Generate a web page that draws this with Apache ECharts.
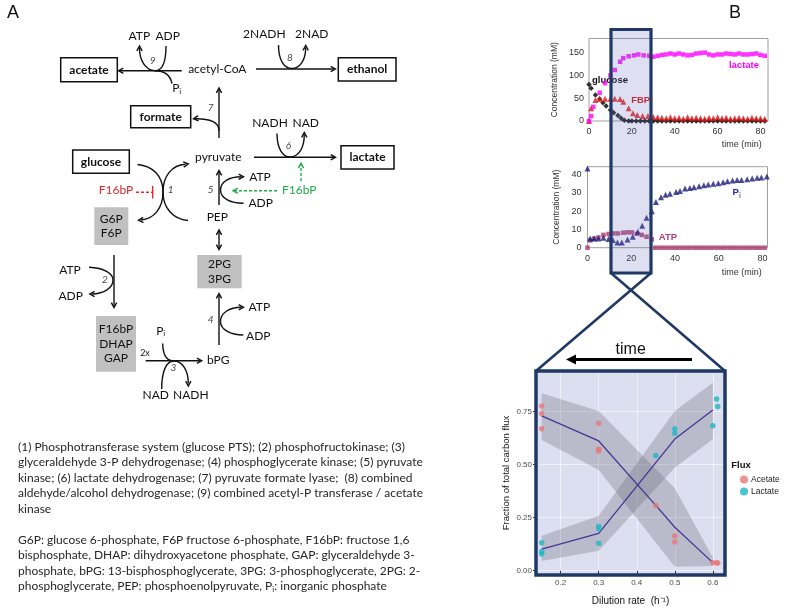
<!DOCTYPE html>
<html><head><meta charset="utf-8">
<script src="https://cdn.jsdelivr.net/npm/echarts@6/dist/echarts.min.js"></script>
<style>html,body{margin:0;padding:0;background:#fff}#c{width:787px;height:612px}</style>
</head><body><div id="c"></div>
<script>
// ---------- DATA: top chart (concentration, mM vs time, min) ----------
const glucoseT = [0,1,3,5,6.5,8,10,11.5,13.5,15,16.5,18.5,20,22,24,26,28,30,32,34,36,38,40,42,44,46,48,50,52,54,56,58,60,62,64,66,68,70,72,74,76,78,80,82];
const glucoseV = [80,72,57,48,40,33,24,18,12,6,1.5,0,0,0,0,0,0,0,0,0,0,0,0,0,0,0,0,0,0,0,0,0,0,0,0,0,0,0,0,0,0,0,0,0];
const fbpT = [0,1,3,5,7.5,10,12,14.5,16,18.5,20.5,22.5,25,27.5,30,32,34,36,38,40,42,44,46,48,50,52,54,56,58,60,62,64,66,68,70,72,74,76,78,80,82];
const fbpV = [0,28,46,49,49,49,49,48,42,28,17,13,11,11,9,8,7,6,8,6,7,5,8,6,7,6,5,7,6,8,6,7,5,6,7,6,5,7,6,6,5];
const lactT = [0,1,2,5,7.5,10,12,14.5,16,18.5,21,23,25.5,28,30,32,34,36,38,40,42,44,46,48,50,52,54,56,58,60,62,64,66,68,70,72,74,76,78,80,82];
const lactV = [0,11,31,62,83,100,112,130,138,142,144,146,144,143,141,143,145,146,148,146,148,146,144,145,148,149,150,146,144,146,146,148,147,146,148,146,146,147,148,145,143];
// ---------- DATA: middle chart ----------
const piT = [0,1.2,3,5,7.3,9.6,11.6,13.7,15.7,18.3,20.7,23,25,27,29.4,31.3,33.6,35.7,37.7,40.5,42.3,44.6,46.8,48.7,51,53.2,55.2,57.5,59.8,62,64,66.3,68.4,70.4,73,75.3,77.6,79.5,82];
const piV = [43.3,5,5,5,5.5,4.7,4.2,2.9,2.9,4.5,6,8.7,12,16.4,20,25,27.6,29,29.5,30.5,31,32.4,32.7,33,33.6,34.2,34.5,35,35.3,35.8,36.4,36.7,37,37,37.5,37.8,38.2,38.4,39];
const atpT = [0,1.2,3,5,7.3,9.6,11.9,14,16.4,18.3,20.2,22.5,24.8,27,29.4,31,33,35,37,39,41,43,45,47,49,51,53,55,57,59,61,63,65,67,69,71,73,75,77,79,81,83];
const atpV = [0,4,5,5.6,7,7.5,7.8,7.8,8.2,8.4,8.4,7.6,7,6,4.5,0,0,0,0,0,0,0,0,0,0,0,0,0,0,0,0,0,0,0,0,0,0,0,0,0,0,0];
// ---------- DATA: bottom chart (fraction of carbon flux vs dilution rate) ----------
const acetX = [0.15,0.15,0.15,0.3,0.3,0.3,0.45,0.5,0.5,0.6,0.61,0.613];
const acetY = [0.777,0.742,0.670,0.695,0.573,0.565,0.308,0.164,0.135,0.038,0.038,0.036];
const lactX = [0.15,0.15,0.15,0.3,0.3,0.3,0.45,0.5,0.5,0.6,0.61,0.613];
const lactY = [0.132,0.090,0.079,0.208,0.198,0.129,0.543,0.670,0.648,0.684,0.810,0.774];
const meanX = [0.15,0.3,0.45,0.5,0.6];
const acetMean = [0.730,0.612,0.308,0.205,0.038];
const lactMean = [0.102,0.176,0.51,0.621,0.758];
const bandX = [0.15,0.3,0.5,0.6];
const acetLo = [0.617,0.475,0.019,0.022];
const acetHi = [0.837,0.753,0.389,0.062];
const lactLo = [0.046,0.094,0.486,0.62];
const lactHi = [0.165,0.259,0.753,0.887];
const dilTicks = [0.2,0.3,0.4,0.5,0.6];
const fracTicks = [0,0.25,0.5,0.75];

const zip = (a,b) => a.map((v,i)=>[v,b[i]]);

// ---------- Diagram helpers (panel A) ----------
const els = [];
const INK = '#111', LW = 1.4, GREEN = '#1fae48', RED = '#e8262b', F = 'Lato';
function bz(x1,y1,c1x,c1y,c2x,c2y,x2,y2,st){els.push({type:'bezierCurve',shape:{x1,y1,x2,y2,cpx1:c1x,cpy1:c1y,cpx2:c2x,cpy2:c2y},style:Object.assign({stroke:INK,lineWidth:LW,fill:null},st||{})});}
function ln(x1,y1,x2,y2,st){els.push({type:'line',shape:{x1,y1,x2,y2},style:Object.assign({stroke:INK,lineWidth:LW},st||{})});}
function head(x,y,dx,dy,col){const a=Math.atan2(dy,dx),L=5.5,w=0.5;els.push({type:'polyline',shape:{points:[[x-L*Math.cos(a-w),y-L*Math.sin(a-w)],[x,y],[x-L*Math.cos(a+w),y-L*Math.sin(a+w)]]},style:{stroke:col||INK,lineWidth:LW,fill:null}});}
function tx(x,y,t,st){els.push({type:'text',x,y,style:Object.assign({text:t,fill:'#111',font:'12px '+F,align:'center',verticalAlign:'middle'},st||{})});}
function num(x,y,t){tx(x,y,t,{font:'italic 10px '+F,fill:'#444'});}
function box(x1,y1,x2,y2,label){els.push({type:'rect',shape:{x:x1,y:y1,width:x2-x1,height:y2-y1},style:{fill:'#fff',stroke:INK,lineWidth:1.5}});tx((x1+x2)/2,(y1+y2)/2,label,{font:'bold 12px '+F});}
function gbox(x1,y1,x2,y2,lines){els.push({type:'rect',shape:{x:x1,y:y1,width:x2-x1,height:y2-y1},style:{fill:'#c0c0c0'}});const cy=(y1+y2)/2,n=lines.length;lines.forEach((l,i)=>tx((x1+x2)/2,cy+(i-(n-1)/2)*14.3,l));}
function pi(x,y,col,font){els.push({type:'text',x,y,style:{text:'P{s|i}',fill:col||'#111',font:font||('12px '+F),align:'center',verticalAlign:'middle',rich:{s:{fontSize:8,fontFamily:F,fill:col||'#111',padding:[6,0,0,0]}}}});}

// panel labels
tx(13,13,'A',{font:'18px "Liberation Sans"'});
tx(735,13,'B',{font:'18px "Liberation Sans"'});

// reaction 9
ln(181.7,70.7,119.5,70.7); head(118.5,70.7,-1,0);
bz(166,46,166,62,162,70.7,155,70.7); bz(155,70.7,146,70.7,139.5,61,139.5,48); head(139.5,46,0,-1);
bz(155,70.7,163,70.7,170,74,172,83.5);
tx(139.3,36,'ATP'); tx(167.7,36,'ADP'); num(152.7,60.7,'9'); pi(176.7,88.3);
box(60.7,57.7,117.3,81.7,'acetate');
tx(217.3,69,'acetyl-CoA');
// reaction 8
ln(256,69,334,69); head(335.5,69,1,0);
bz(278.5,45,278.5,60,284,68.5,292,68.5); bz(292,68.5,300,68.5,305.7,60,305.7,47.5); head(305.7,45.5,0,-1);
tx(264.3,34.3,'2NADH'); tx(311.7,34.3,'2NAD'); num(290,57.3,'8');
box(338.3,57.7,396,81,'ethanol');
// reaction 7
ln(219,138,219,89.5); head(219,88,0,-1);
bz(219,131,219,122,210,118.5,195,118.7); head(193.5,118.8,-1,0.1);
num(210.7,107.3,'7');
box(130.7,105.7,190.7,127.7,'formate');
// reaction 6
tx(218.3,157.3,'pyruvate');
ln(254,157.3,334,157.3); head(335.5,157.3,1,0);
bz(277,133.5,277,149,283,157,290,157); bz(290,157,298,157,304.3,149,304.3,134.5); head(304.3,132.5,0,-1);
tx(270,122.7,'NADH'); tx(305.7,122.7,'NAD'); num(288.3,146,'6');
box(341,145.7,394,169,'lactate');
ln(301,181,301,165,{stroke:GREEN,lineDash:[3,2]}); head(301,163.3,0,-1,GREEN);
// reaction 1
box(72.7,150,129.3,173.3,'glucose');
bz(137.5,164.5,153,166,163,176,163,192); bz(163,192,163,208,154,219,141,220); head(138.5,220.2,-1,0.05);
bz(188,220.5,173,219,163,208,163,192); bz(163,192,163,176,172,165,185.5,164.3); head(188.3,164,1,-0.1);
tx(116,190,'F16bP',{fill:RED}); ln(136,192.3,152,192.3,{stroke:RED,lineDash:[3,2]}); ln(152.7,186,152.7,198.5,{stroke:RED});
num(170.7,190,'1');
// reaction 5
ln(219,205,219,172); head(219,170.5,0,-1);
bz(243.5,203.3,230,203.3,220.5,198,220.5,190); bz(220.5,190,220.5,182,229,176.8,241.5,176.8); head(243.5,176.7,1,0);
tx(260,176.7,'ATP'); tx(260.7,203.3,'ADP'); num(210.7,190,'5');
ln(277,190.7,235,190.7,{stroke:GREEN,lineDash:[3,2]}); head(233,190.7,-1,0,GREEN);
tx(299.3,190,'F16bP',{fill:GREEN});
tx(217.3,216.7,'PEP');
ln(219,231,219,248.5); head(219,230,0,-1); head(219,249.5,0,1);
gbox(197.3,255,241.7,288.3,['2PG','3PG']);
gbox(94.3,207.3,128.3,245,['G6P','F6P']);
// reaction 2
ln(114,255,114,306); head(114,307.5,0,1);
bz(89,267.3,104,268,113,273,113,280); bz(113,280,113,288,104,293.5,92,294); head(89.8,294,-1,0);
tx(70,270,'ATP'); tx(70.7,296,'ADP'); num(105,279.3,'2');
gbox(96,316,136,371.7,['F16bP','DHAP','GAP']);
// reaction 3
ln(145.7,360.7,200,360.7); head(201.7,360.7,1,0);
tx(145,353.3,'2x',{font:'9px '+F});
bz(162.7,343.5,162.7,353,166,360.7,172,360.7);
bz(161.7,389,161.7,372,166,361,174,361); bz(174,361,182,361,188.3,370,188.3,383.5); head(188.3,386,0,1);
num(173.3,367.3,'3'); tx(155.7,395,'NAD'); tx(190.8,395,'NADH'); pi(160.7,330.7); tx(218.3,360,'bPG');
// reaction 4
ln(219,345,219,295); head(219,293.5,0,-1);
bz(243.3,335,230,335,220.5,329,220.5,321.7); bz(220.5,321.7,220.5,313,229,307.3,241.5,307.3); head(243.5,307.3,1,0);
tx(259.3,307.3,'ATP'); tx(258.3,335.7,'ADP'); num(210.7,319.3,'4');

// legend paragraphs
const P = {fill:'#262626',font:'12px '+F,align:'left',verticalAlign:'middle'};
const para1 = ['(1) Phosphotransferase system (glucose PTS); (2) phosphofructokinase; (3)',
 'glyceraldehyde 3-P dehydrogenase; (4) phosphoglycerate kinase; (5) pyruvate',
 'kinase; (6) lactate dehydrogenase; (7) pyruvate formate lyase;  (8) combined',
 'aldehyde/alcohol dehydrogenase; (9) combined acetyl-P transferase / acetate',
 'kinase'];
const para2 = ['G6P: glucose 6-phosphate, F6P fructose 6-phosphate, F16bP: fructose 1,6',
 'bisphosphate, DHAP: dihydroxyacetone phosphate, GAP: glyceraldehyde 3-',
 'phosphate, bPG: 13-bisphosphoglycerate, 3PG: 3-phosphoglycerate, 2PG: 2-',
 'phosphoglycerate, PEP: phosphoenolpyruvate, P{s|i}: inorganic phosphate'];
para1.forEach((t,i)=>tx(18,446.7+i*15.6,t,P));
para2.forEach((t,i)=>tx(18,540+i*15.4,t,Object.assign({},P,{rich:{s:{fontSize:8,fontFamily:F,fill:'#262626',padding:[6,0,0,0]}}})));

// chart annotations
const CL = '"Liberation Sans"';
tx(744,65,'lactate',{fill:'#ff00ff',font:'bold 9.5px '+CL});
tx(610,80.7,'glucose',{fill:'#111',font:'bold 9.5px '+CL});
tx(640.7,100.7,'FBP',{fill:'#dd2222',font:'bold 9.5px '+CL});
tx(741.7,145,'time (min)',{fill:'#333',font:'9px '+CL});
tx(741.7,272.3,'time (min)',{fill:'#333',font:'9px '+CL});
pi(736.7,192.3,'#2424c8','bold 9.5px '+CL);
tx(668,237,'ATP',{fill:'#b04078',font:'bold 9.5px '+CL});
tx(741,465,'Flux',{fill:'#111',font:'bold 9.5px '+CL});

// zoom overlay
const NAVY = '#1f3864';
els.push({type:'rect',z:50,shape:{x:611,y:29.5,width:40,height:243.5},style:{fill:'rgba(90,100,190,0.2)',stroke:NAVY,lineWidth:3.2}});
els.push({type:'line',z:50,shape:{x1:611,y1:273,x2:725,y2:371},style:{stroke:NAVY,lineWidth:2.6}});
els.push({type:'line',z:50,shape:{x1:651,y1:273,x2:536,y2:371},style:{stroke:NAVY,lineWidth:2.6}});
els.push({type:'rect',z:50,shape:{x:536,y:371,width:189,height:204},style:{fill:null,stroke:NAVY,lineWidth:3.5}});
tx(630.7,350,'time',{font:'16px '+CL,fill:'#111'});
els.push({type:'line',z:50,shape:{x1:692,y1:359.5,x2:573,y2:359.5},style:{stroke:'#000',lineWidth:3}});
els.push({type:'polygon',z:50,shape:{points:[[566,359.5],[576,354.5],[576,364.5]]},style:{fill:'#000'}});

// ---------- chart ----------
const chart = echarts.init(document.getElementById('c'), null, {renderer:'canvas'});
const axLab = {color:'#333',fontSize:9,fontFamily:'Liberation Sans'};
function ribbon(xs,lo,hi,col){
  return {type:'custom',xAxisIndex:2,yAxisIndex:2,z:2,silent:true,data:[[xs[0],lo[0]]],
    renderItem:(p,api)=>{const pts=xs.map((x,i)=>api.coord([x,hi[i]])).concat(xs.map((x,i)=>api.coord([x,lo[i]])).reverse());
      return {type:'polygon',shape:{points:pts},style:{fill:col}};}};
}
chart.setOption({
  animation:false,
  grid:[
    {left:589,top:38.5,width:179,height:82.5,show:true,borderColor:'#a0a0a0',borderWidth:1,backgroundColor:'#fff'},
    {left:587.5,top:166.7,width:180,height:81,show:true,borderColor:'#a0a0a0',borderWidth:1,backgroundColor:'#fff'},
    {left:536,top:371,width:189,height:204,show:true,borderWidth:0,backgroundColor:'#dcdff0'}
  ],
  xAxis:[
    {gridIndex:0,type:'value',min:0,max:83.5,interval:20,axisLine:{show:false},axisTick:{show:false},splitLine:{show:false},
     axisLabel:Object.assign({margin:6,formatter:v=>v%20===0?v:'',showMaxLabel:false},axLab)},
    {gridIndex:1,type:'value',min:0,max:82.3,interval:20,axisLine:{show:false},axisTick:{show:false},splitLine:{show:false},
     axisLabel:Object.assign({margin:6,formatter:v=>v%20===0?v:'',showMaxLabel:false},axLab)},
    {gridIndex:2,type:'value',min:0.1351,max:0.632,axisLine:{show:false},
     axisTick:{show:true,length:3,lineStyle:{color:'#333'},customValues:dilTicks},
     splitLine:{show:true,lineStyle:{color:'rgba(255,255,255,0.55)',width:1}},
     axisLabel:{customValues:dilTicks,color:'#4d4d4d',fontSize:8,margin:4,fontFamily:'Liberation Sans',formatter:v=>v.toFixed(1)},
     name:'Dilution rate  (h\u207B\u00B9)',nameLocation:'middle',nameGap:21,nameTextStyle:{color:'#111',fontSize:10,fontFamily:'Liberation Sans'}}
  ],
  yAxis:[
    {gridIndex:0,type:'value',min:0,max:181,interval:50,axisLine:{show:false},axisTick:{show:false},splitLine:{show:false},
     axisLabel:Object.assign({margin:5,formatter:v=>v%50===0?v:'',showMaxLabel:false},axLab),
     name:'Concentration (mM)',nameLocation:'middle',nameGap:30,nameTextStyle:{color:'#333',fontSize:8.5,fontFamily:'Liberation Sans'}},
    {gridIndex:1,type:'value',min:0,max:44.3,interval:10,axisLine:{show:false},axisTick:{show:false},splitLine:{show:false},
     axisLabel:Object.assign({margin:6,formatter:v=>v%10===0?v:'',showMaxLabel:false},axLab),
     name:'Concentration (mM)',nameLocation:'middle',nameGap:26,nameTextStyle:{color:'#333',fontSize:8.5,fontFamily:'Liberation Sans'}},
    {gridIndex:2,type:'value',min:-0.0203,max:0.942,axisLine:{show:false},
     axisTick:{show:true,length:3,lineStyle:{color:'#333'},customValues:fracTicks},
     splitLine:{show:true,lineStyle:{color:'rgba(255,255,255,0.55)',width:1}},
     axisLabel:{customValues:fracTicks,color:'#4d4d4d',fontSize:8,margin:4,fontFamily:'Liberation Sans',formatter:v=>v.toFixed(2)},
     name:'Fraction of total carbon flux',nameLocation:'middle',nameGap:25,nameTextStyle:{color:'#111',fontSize:9.5,fontFamily:'Liberation Sans'}}
  ],
  legend:{data:['Acetate','Lactate'],orient:'vertical',left:735,top:470,itemWidth:8,itemHeight:8,itemGap:3,icon:'circle',
    textStyle:{fontSize:8.5,color:'#222',fontFamily:'Liberation Sans',padding:[0,0,0,-2]}},
  series:[
    {type:'scatter',name:'glucose',xAxisIndex:0,yAxisIndex:0,data:zip(glucoseT,glucoseV),symbol:'diamond',symbolSize:5.5,itemStyle:{color:'#000'}},
    {type:'scatter',name:'FBP',xAxisIndex:0,yAxisIndex:0,data:zip(fbpT,fbpV),symbol:'triangle',symbolSize:6,itemStyle:{color:'#e01515'}},
    {type:'scatter',name:'lactate',xAxisIndex:0,yAxisIndex:0,data:zip(lactT,lactV),symbol:'rect',symbolSize:4.5,itemStyle:{color:'#ff00ff'}},
    {type:'scatter',name:'ATP',xAxisIndex:1,yAxisIndex:1,data:zip(atpT,atpV),symbol:'rect',symbolSize:4.5,itemStyle:{color:'#a8386b'}},
    {type:'scatter',name:'Pi',xAxisIndex:1,yAxisIndex:1,data:zip(piT,piV),symbol:'triangle',symbolSize:6,itemStyle:{color:'#1c1c7a'}},
    ribbon(bandX,acetLo,acetHi,'rgba(105,105,120,0.3)'),
    ribbon(bandX,lactLo,lactHi,'rgba(105,105,120,0.3)'),
    {type:'line',name:'acetMean',xAxisIndex:2,yAxisIndex:2,z:3,data:zip(meanX,acetMean),showSymbol:false,lineStyle:{color:'#463595',width:1.3}},
    {type:'line',name:'lactMean',xAxisIndex:2,yAxisIndex:2,z:3,data:zip(meanX,lactMean),showSymbol:false,lineStyle:{color:'#463595',width:1.3}},
    {type:'scatter',name:'Acetate',xAxisIndex:2,yAxisIndex:2,z:4,data:zip(acetX,acetY),symbol:'circle',symbolSize:5.5,itemStyle:{color:'#e7787a'}},
    {type:'scatter',name:'Lactate',xAxisIndex:2,yAxisIndex:2,z:4,data:zip(lactX,lactY),symbol:'circle',symbolSize:5.5,itemStyle:{color:'#1fb7c6'}}
  ],
  graphic:{elements:els}
});
</script>
</body></html>
